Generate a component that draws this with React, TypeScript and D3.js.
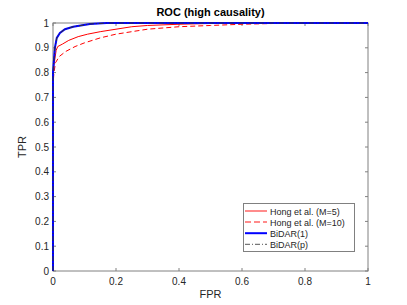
import React from "react";
import * as d3 from "d3";

const xTicks = [0, 0.2, 0.4, 0.6, 0.8, 1];
const yTicks = [0, 0.1, 0.2, 0.3, 0.4, 0.5, 0.6, 0.7, 0.8, 0.9, 1];

const hongM5FPR = [0, 0, 0.003, 0.01, 0.015, 0.03, 0.05, 0.08, 0.11, 0.15, 0.2, 0.25, 0.3, 0.4, 0.5, 0.6, 1];
const hongM5TPR = [0, 0.78, 0.83, 0.89, 0.905, 0.915, 0.93, 0.945, 0.955, 0.965, 0.975, 0.985, 0.99, 0.995, 0.998, 1, 1];

const hongM10FPR = [0, 0, 0.003, 0.008, 0.02, 0.04, 0.07, 0.1, 0.15, 0.2, 0.25, 0.3, 0.4, 0.5, 0.6, 0.7, 0.8, 1];
const hongM10TPR = [0, 0.75, 0.8, 0.84, 0.865, 0.885, 0.905, 0.92, 0.94, 0.955, 0.965, 0.975, 0.985, 0.99, 0.995, 0.998, 1, 1];

const bidar1FPR = [0, 0, 0.003, 0.006, 0.012, 0.022, 0.038, 0.064, 0.117, 0.17, 1];
const bidar1TPR = [0, 0.8, 0.85, 0.9, 0.94, 0.96, 0.975, 0.985, 0.996, 1, 1];

const bidarPFPR = [0, 0, 0.003, 0.006, 0.012, 0.022, 0.038, 0.064, 0.117, 0.17, 1];
const bidarPTPR = [0, 0.8, 0.85, 0.9, 0.94, 0.96, 0.975, 0.985, 0.996, 1, 1];

const legendLabels = ["Hong et al. (M=5)", "Hong et al. (M=10)", "BiDAR(1)", "BiDAR(p)"];

export default function App() {
  const W = 407, H = 305;
  const left = 53, right = 368, top = 23, bottom = 271;
  const x = d3.scaleLinear().domain([0, 1]).range([left, right]);
  const y = d3.scaleLinear().domain([0, 1]).range([bottom, top]);
  const line = d3.line<[number, number]>().x(d => x(d[0])).y(d => y(d[1]));
  const zip = (a: number[], b: number[]) => a.map((v, i) => [v, b[i]] as [number, number]);
  const axisColor = "#808080";
  const textColor = "#262626";
  const font = "'Liberation Sans', Arial, sans-serif";

  const series = [
    { d: zip(hongM5FPR, hongM5TPR), stroke: "#ff0000", w: 1, dash: undefined },
    { d: zip(hongM10FPR, hongM10TPR), stroke: "#ff0000", w: 1, dash: "5,3" },
    { d: zip(bidar1FPR, bidar1TPR), stroke: "#0000ff", w: 2, dash: undefined },
    { d: zip(bidarPFPR, bidarPTPR), stroke: "#333333", w: 1, dash: "5,2,1,2" },
  ];
  const legendStyles = [
    { stroke: "#ff6666", w: 1.5, dash: undefined },
    { stroke: "#ff6666", w: 1.5, dash: "6,3" },
    { stroke: "#0000ff", w: 2, dash: undefined },
    { stroke: "#555555", w: 1, dash: "5,2,1,2" },
  ];
  const ly0 = 211, lstep = 11.1;

  return (
    <svg width={W} height={H} style={{ position: "absolute", left: 0, top: 0 }} fontFamily={font}>
      <rect x={0} y={0} width={W} height={H} fill="#fff" />
      <rect x={left} y={top} width={right - left} height={bottom - top} fill="#fff" stroke={axisColor} strokeWidth={1} />
      {xTicks.map(t => (
        <g key={"x" + t}>
          <line x1={x(t)} x2={x(t)} y1={bottom} y2={bottom - 3} stroke={axisColor} />
          <line x1={x(t)} x2={x(t)} y1={top} y2={top + 3} stroke={axisColor} />
          <text x={x(t)} y={bottom + 14} textAnchor="middle" fontSize={10} fill={textColor}>{d3.format("~g")(t)}</text>
        </g>
      ))}
      {yTicks.map(t => (
        <g key={"y" + t}>
          <line x1={left} x2={left + 3} y1={y(t)} y2={y(t)} stroke={axisColor} />
          <line x1={right} x2={right - 3} y1={y(t)} y2={y(t)} stroke={axisColor} />
          <text x={left - 4} y={y(t) + 3.5} textAnchor="end" fontSize={10} fill={textColor}>{d3.format("~g")(t)}</text>
        </g>
      ))}
      {series.map((s, i) => (
        <path key={i} d={line(s.d) || ""} fill="none" stroke={s.stroke} strokeWidth={s.w} strokeDasharray={s.dash} />
      ))}
      <text x={(left + right) / 2} y={16} textAnchor="middle" fontSize={11} fontWeight="bold" fill="#000">ROC (high causality)</text>
      <text x={(left + right) / 2} y={298} textAnchor="middle" fontSize={11} fill={textColor}>FPR</text>
      <text transform={`translate(26,${(top + bottom) / 2}) rotate(-90)`} textAnchor="middle" fontSize={11} fill={textColor}>TPR</text>
      <g>
        <rect x={243.5} y={203.5} width={111} height={48} fill="#fff" stroke={axisColor} />
        {legendLabels.map((l, i) => (
          <g key={l}>
            <line x1={245} x2={267} y1={ly0 + i * lstep} y2={ly0 + i * lstep} stroke={legendStyles[i].stroke} strokeWidth={legendStyles[i].w} strokeDasharray={legendStyles[i].dash} />
            <text x={270} y={ly0 + i * lstep + 3.5} fontSize={9} fill={textColor}>{l}</text>
          </g>
        ))}
      </g>
    </svg>
  );
}
